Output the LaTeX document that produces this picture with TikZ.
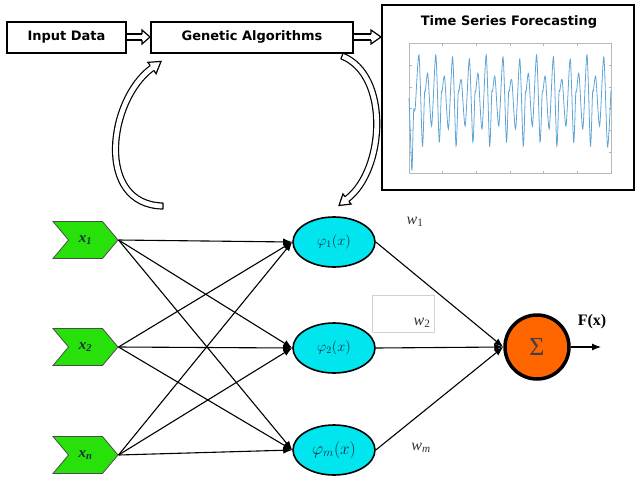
\documentclass[tikz,border=0pt]{standalone}
\usepackage{fontspec}
\newfontfamily\verd{DejaVu Sans}
\newfontfamily\tms{Liberation Serif}
\usetikzlibrary{shapes.geometric,shapes.symbols,calc,arrows.meta}
\definecolor{ingreen}{RGB}{40,225,10}
\definecolor{hidcyan}{RGB}{0,229,238}
\definecolor{sumorange}{RGB}{255,102,0}
\definecolor{tsblue}{RGB}{95,165,212}
\definecolor{labteal}{RGB}{15,45,60}
\newcommand\hhead[4]{%
  \filldraw[fill=white, line width=1.2pt, line join=miter]
  ($(#1)!#4!90:(#2)$) -- ($(#1)!#3!90:(#2)$) -- (#2) -- ($(#1)!#3!-90:(#2)$) -- ($(#1)!#4!-90:(#2)$);}
\begin{document}
\begin{tikzpicture}[x=1pt,y=-1pt,
  topbox/.style={draw, line width=2pt, minimum height=31pt, inner sep=0pt, font=\verd\bfseries\fontsize{13}{15}\selectfont},
  inbox/.style={signal, signal from=west, signal to=east, signal pointer angle=100, draw=black!70, fill=ingreen, minimum width=65pt, minimum height=37pt, inner sep=0pt, line width=0.8pt, text=labteal, font=\tms\fontsize{15}{17}\selectfont\bfseries\itshape},
  hid/.style={ellipse, draw, line width=1.6pt, fill=hidcyan, minimum width=82pt, minimum height=50pt, inner sep=0pt, text=labteal, font=\fontsize{14.4}{16}\selectfont},
  conn/.style={line width=1.1pt, -{Latex[length=9pt,width=7pt]}},
  band/.style={double=white, double distance=4.8pt, line width=1.2pt},
  wlab/.style={font=\tms\itshape\fontsize{16}{18}\selectfont, text=black!80},
]
\useasboundingbox (0,0) rectangle (636,479);

% top boxes
\node[topbox, minimum width=119pt] (ind) at (66.5,37) {Input Data};
\node[topbox, minimum width=202pt] (ga) at (252,37) {Genetic Algorithms};
\node[draw, line width=2pt, minimum width=252pt, minimum height=185pt, inner sep=0pt] (ts) at (508,97.5) {};
\node[font=\verd\bfseries\fontsize{13}{15}\selectfont] (tst) at (509,22) {Time Series Forecasting};

% straight hollow arrows
\coordinate (b1) at (142,37);
\draw[band] (ind.east) -- (b1);
\hhead{b1}{ga.west}{7pt}{3pt}
\coordinate (b2) at (371,37);
\coordinate (t2) at (381,37);
\draw[band] (ga.east) -- (b2);
\hhead{b2}{t2}{7pt}{3pt}

% plot frame
\draw[gray!55, line width=0.6pt] (409,43) rectangle (611,173);
\foreach \i in {0,...,6} {
  \draw[gray!60, line width=0.5pt] ({409+33.67*\i},43) -- ++(0,2.5);
  \draw[gray!60, line width=0.5pt] ({409+33.67*\i},173) -- ++(0,-2.5);
}
\foreach \yy in {65,87,108,130,152} {
  \draw[gray!60, line width=0.5pt] (409,\yy) -- ++(2.5,0);
  \draw[gray!60, line width=0.5pt] (611,\yy) -- ++(-2.5,0);
}
% series
\gdef\pts{(409,98) (410.6,140) (412,170) (413.6,112) (415.2,108) (419,55)}
\foreach \k in {0,...,10} {
  \pgfmathsetmacro\pa{419+16.8*\k+3.4}
  \pgfmathsetmacro\pb{419+16.8*\k+5.5}
  \pgfmathsetmacro\pc{419+16.8*\k+6.4}
  \pgfmathsetmacro\pd{419+16.8*\k+8.8}
  \pgfmathsetmacro\pe{419+16.8*\k+12.6}
  \pgfmathsetmacro\pf{419+16.8*\k+16.8}
  \pgfmathsetmacro\ya{146-4*mod(\k,2)}
  \pgfmathsetmacro\yd{74+3*mod(\k,3)}
  \pgfmathsetmacro\ye{126+3*mod(\k,2)}
  \pgfmathsetmacro\yf{55+2*mod(\k,3)}
  \xdef\pts{\pts (\pa,\ya) (\pb,94) (\pc,91) (\pd,\yd) (\pe,\ye) (\pf,\yf)}
}
\xdef\pts{\pts (607.5,147) (611,90)}
\edef\tsdraw{\noexpand\draw[tsblue, line width=0.8pt] plot[smooth, tension=0.45] coordinates {\pts};}
\tsdraw

% inputs
\node[inbox] (x1) at (85.5,240) {x\textsubscript{1}};
\node[inbox] (x2) at (85.5,347) {x\textsubscript{2}};
\node[inbox] (xn) at (85.5,455) {x\textsubscript{n}};

% hidden
\node[hid] (h1) at (334,242) {$\varphi_1(x)$};
\node[hid] (h2) at (334,348) {$\varphi_2(x)$};
\node[hid, font=\fontsize{17.28}{19}\selectfont] (hm) at (334,450) {$\varphi_m(x)$};

% sum
\node[circle, draw, line width=3.5pt, fill=sumorange, minimum size=64pt, inner sep=0pt, font=\tms\fontsize{26}{28}\selectfont, text=black!75] (sum) at (537,347) {Σ};
\coordinate (out) at (601,347);

% connections
\foreach \i in {x1,x2,xn} {
  \foreach \j in {h1,h2,hm} {
    \draw[conn] (\i.east) -- (\j.west);
  }
}
\foreach \j in {h1,h2,hm} {
  \draw[conn] (\j.east) -- (sum.west);
}
\draw[conn] (sum.east) -- (out);

% labels
\node[font=\tms\bfseries\fontsize{16}{18}\selectfont] (fx) at (592,322) {F(x)};
\node[wlab] (w1) at (415,222) {w\textsubscript{\upshape 1}};
\node[wlab] (w2) at (422,323) {w\textsubscript{\upshape 2}};
\node[wlab] (wm) at (421,448) {w\textsubscript{m}};
\node[draw=gray!35, line width=0.6pt, minimum width=62pt, minimum height=37pt, inner sep=0pt] (gbox) at (403,313.5) {};

% curved hollow arrows
\coordinate (LS) at (163,206);
\coordinate (LC) at (95,205);
\coordinate (LB) at (152,68);
\coordinate (LT) at (161,61.4);
\draw[band] (LS) .. controls (LC) and (108,100) .. (LB);
\draw[line width=1.2pt, line cap=square] ($(LS)!3pt!90:(LC)$) -- ($(LS)!3pt!-90:(LC)$);
\hhead{LB}{LT}{7pt}{3pt}

\coordinate (RS) at (342,56);
\coordinate (RC) at (390,75);
\coordinate (RB) at (347,199);
\coordinate (RT) at (339,205.5);
\draw[band] (RS) .. controls (RC) and (385,170) .. (RB);
\draw[line width=1.2pt, line cap=square] ($(RS)!3pt!90:(RC)$) -- ($(RS)!3pt!-90:(RC)$);
\hhead{RB}{RT}{6.5pt}{3pt}
\end{tikzpicture}
\end{document}
